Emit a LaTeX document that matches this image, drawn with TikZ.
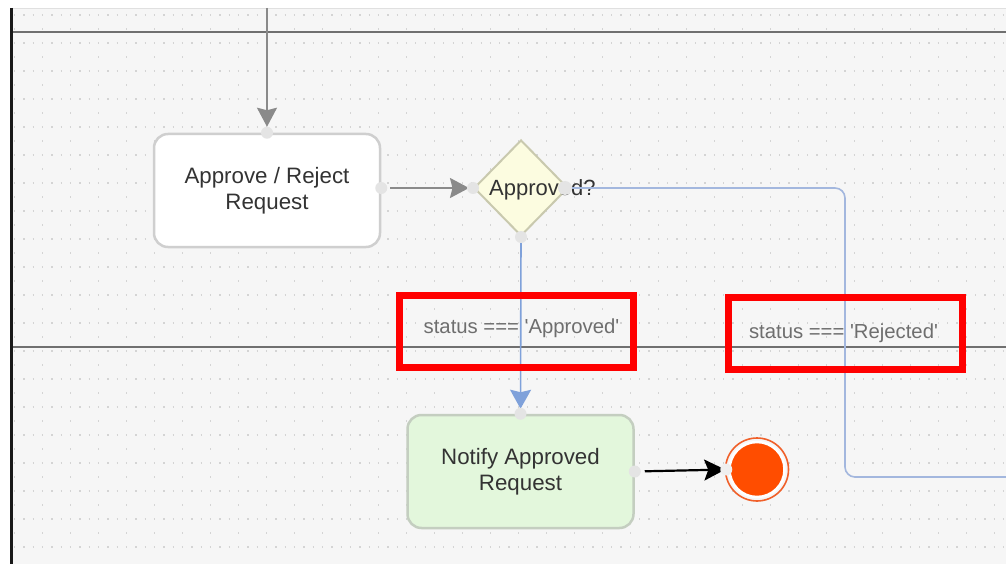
\documentclass[tikz,border=0pt]{standalone}
\usepackage{fontspec}
\setmainfont{Liberation Sans}[Ligatures=TeXOff]
\usetikzlibrary{shapes.geometric,arrows.meta}
\definecolor{bgc}{HTML}{F6F6F6}
\definecolor{gridc}{HTML}{D4D4D4}
\definecolor{lanec}{HTML}{707070}
\definecolor{boxborder}{HTML}{CFCFCF}
\definecolor{greenfill}{HTML}{E3F7DC}
\definecolor{greenborder}{HTML}{C4CEC0}
\definecolor{gwfill}{HTML}{FCFCE0}
\definecolor{gwborder}{HTML}{C9C9AE}
\definecolor{flowgray}{HTML}{8A8A8A}
\definecolor{flowblue}{HTML}{7FA1DA}
\definecolor{pathblue}{HTML}{A3B7DE}
\definecolor{endfill}{HTML}{FF4D00}
\definecolor{endring}{HTML}{F0602A}
\definecolor{portc}{HTML}{E4E4E4}
\definecolor{txt}{HTML}{333333}
\definecolor{lbltxt}{HTML}{6E6E6E}
\definecolor{hilite}{HTML}{FF0000}
\begin{document}
\begin{tikzpicture}[x=1pt,y=-1pt,
  taskbox/.style={draw=boxborder, line width=2.5pt, fill=white, rounded corners=14pt,
    minimum width=226pt, minimum height=113pt, inner sep=0pt, align=center,
    font=\fontsize{22.3}{26}\selectfont, text=txt},
  gateway/.style={diamond, draw=gwborder, line width=2pt, fill=gwfill,
    minimum width=94pt, minimum height=96pt, inner sep=0pt},
  gwtext/.style={font=\fontsize{22}{26}\selectfont, text=txt, inner sep=0pt},
  endev/.style={circle, fill=endfill, draw=white, line width=2.5pt, minimum size=55pt, inner sep=0pt},
  port/.style={circle, fill=portc, minimum size=12pt, inner sep=0pt},
  lbl/.style={font=\fontsize{20.3}{24}\selectfont, text=lbltxt, inner sep=0pt, anchor=base},
  hibox/.style={draw=hilite, line width=7pt, minimum width=234pt, minimum height=72pt, inner sep=0pt},
  grayflow/.style={draw=flowgray, line width=2pt, -{Stealth[length=19pt,width=20pt,inset=2.5pt]}},
  blueflow/.style={draw=flowblue, line width=1.6pt, -{Stealth[length=19pt,width=21pt,inset=2.5pt,fill=flowblue]}},
  bluepath/.style={draw=pathblue, line width=1.6pt, rounded corners=10pt},
  blackflow/.style={draw=black, line width=2.2pt, -{Stealth[length=21pt,width=21pt,inset=4pt]}},
  lane/.style={draw=lanec, line width=2.2pt}
]
\useasboundingbox (0,0) rectangle (1006,564);
\fill[white] (0,0) rectangle (1006,564);
\fill[bgc] (11,8) rectangle (1006,564);
\draw[draw=black!12, line width=0.8pt] (11,8) -- (1006,8);
% dot grid
\foreach \yy in {15,43,...,560}
  \draw[gridc, line width=1.3pt, dash pattern=on 1.3pt off 8.03pt] (14,\yy) -- (1006,\yy);
\foreach \yy in {29,57,...,560}
  \draw[gridc, line width=1.3pt, dash pattern=on 1.3pt off 26.7pt] (14,\yy) -- (1006,\yy);
% lanes
\draw[lane] (11,32) -- (1006,32);
\draw[lane] (11,347) -- (1006,347);
\draw[draw=black!90, line width=2.2pt] (11.5,8) -- (11.5,564);

% nodes
\coordinate (start) at (267,8);
\node[taskbox] (rev) at (267,190.5) {Approve / Reject\\Request};
\node[gateway] (gw) at (521,188) {};
\node[gwtext, anchor=base west] (gwt) at (489,196) {Approved?};
\node[taskbox, fill=greenfill, draw=greenborder] (notify) at (520.5,471.5) {Notify Approved\\Request};
\node[endev] (endn) at (757,469.5) {};
\draw[endring, line width=1.6pt] (endn.center) circle (31.5pt);
\coordinate (revout) at (rev.east |- gw.west);
\coordinate (gwout) at ([xshift=-4pt]gw.east);
\coordinate (bend) at (845,477);
\coordinate (rejout) at (1006,477);

% connectors
\draw[grayflow, shorten >=6pt] (start) -- (rev.north);
\draw[grayflow, shorten <=9pt, shorten >=4pt] (revout) -- (gw.west);
\draw[blueflow, shorten >=5pt] (gw.south) -- (notify.north);
\draw[bluepath] (gwout) -| (bend) -- (rejout);
\draw[blackflow, shorten <=10pt, shorten >=3pt] (notify.east) -- (endn.west);

% ports
\node[port] (p1) at (rev.north) {};
\node[port] (p2) at (revout) {};
\node[port] (p3) at (gw.west) {};
\node[port, minimum size=14pt] (p4) at (gwout) {};
\node[port] (p5) at (gw.south) {};
\node[port] (p6) at (notify.north) {};
\node[port] (p7) at (notify.east) {};
\node[port, fill=portc!60] (p8) at ([xshift=-2pt]endn.west) {};

% labels
\node[lbl] (lblA) at (521.5,333) {status === 'Approved'};
\node[lbl] (lblR) at (843.5,338) {status === 'Rejected'};

% highlight boxes
\node[hibox] (hiA) at (516.5,331.5) {};
\node[hibox] (hiR) at (845,333.5) {};
\end{tikzpicture}
\end{document}
